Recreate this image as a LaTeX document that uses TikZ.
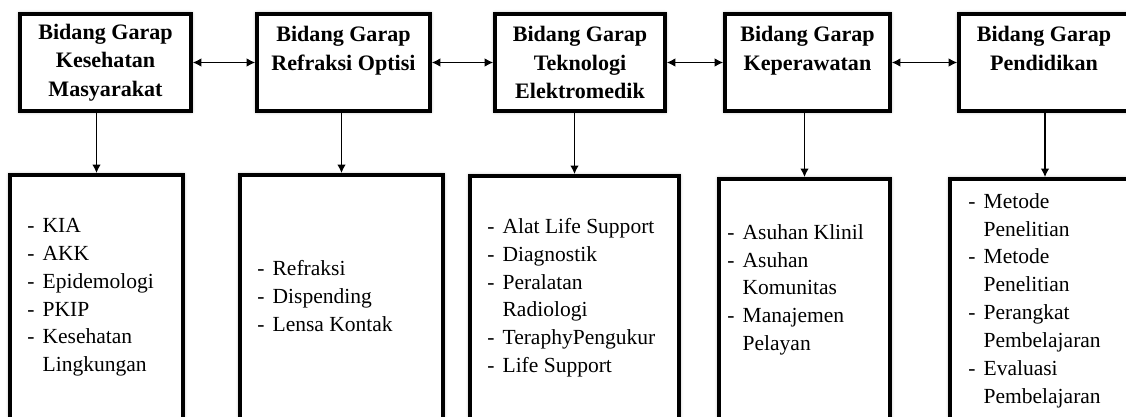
\documentclass[tikz,border=0pt]{standalone}
\usepackage{fontspec}
\setmainfont{Liberation Serif}
\usetikzlibrary{arrows.meta,calc,shadows.blur}

\tikzset{
  kotak/.style={draw, line width=2.6pt, fill=white, inner sep=0pt,
    blur shadow={shadow xshift=0pt, shadow yshift=0pt, shadow blur radius=3pt, shadow opacity=40}},
  judul/.style={kotak, minimum height=2.425cm, align=center,
    font=\fontsize{15.7}{20.3}\selectfont\bfseries},
  isi/.style={kotak, anchor=north, minimum height=6.6cm},
  daftar/.style={anchor=north west, align=left, inner sep=0pt,
    font=\fontsize{15.3}{19.8}\selectfont},
  panah/.style={-{Latex[length=6pt,width=6pt]}, line width=0.8pt},
  duapanah/.style={{Latex[length=6pt,width=6pt]}-{Latex[length=6pt,width=6pt]}, line width=0.8pt}
}
\newcommand{\butir}[1]{\makebox[0.38cm][l]{-}#1}
\newcommand{\lanjut}[1]{\hspace*{0.38cm}#1}

\begin{document}
\begin{tikzpicture}[x=0.025cm, y=-0.025cm]
    \clip (0,0) rectangle (1126,416);

    % bidang garap
    \node[judul, minimum width=4.275cm] (kesmas) at (105.5,62.5) {Bidang Garap\\Kesehatan\\Masyarakat};
    \node[judul, minimum width=4.325cm] (refraksi) at (343.5,62.5) {Bidang Garap\\Refraksi Optisi\\\mbox{}};
    \node[judul, minimum width=4.25cm] (tekno) at (580,62.5) {Bidang Garap\\Teknologi\\Elektromedik};
    \node[judul, minimum width=4.125cm] (perawat) at (807.5,62.5) {Bidang Garap\\Keperawatan\\\mbox{}};
    \node[judul, minimum width=4.25cm] (didik) at (1044,62.5) {Bidang Garap\\Pendidikan\\\mbox{}};

    \draw[duapanah] (kesmas.east) -- (refraksi.west);
    \draw[duapanah] (refraksi.east) -- (tekno.west);
    \draw[duapanah] (tekno.east) -- (perawat.west);
    \draw[duapanah] (perawat.east) -- (didik.west);

    % kotak isi
    \node[isi, minimum width=4.325cm] (kesmasIsi) at (96.5,173) {};
    \node[isi, minimum width=5.075cm] (refraksiIsi) at (341.5,173) {};
    \node[isi, minimum width=5.225cm] (teknoIsi) at (574.5,174) {};
    \node[isi, minimum width=4.275cm] (perawatIsi) at (804.5,177) {};
    \node[isi, minimum width=4.75cm] (didikIsi) at (1045,177) {};

    \draw[panah] (kesmas.south -| kesmasIsi.north) -- (kesmasIsi.north);
    \draw[panah] (refraksi.south -| refraksiIsi.north) -- (refraksiIsi.north);
    \draw[panah] (tekno.south -| teknoIsi.north) -- (teknoIsi.north);
    \draw[panah] (perawat.south -| perawatIsi.north) -- (perawatIsi.north);
    \draw[panah] (didik.south -| didikIsi.north) -- (didikIsi.north);

    % daftar
    \node[daftar] (kesmasDaftar) at ($(kesmasIsi.north west)+(19,45)$)
        {\butir{KIA}\\\butir{AKK}\\\butir{Epidemologi}\\\butir{PKIP}\\\butir{Kesehatan}\\\lanjut{Lingkungan}};
    \node[daftar] (refraksiDaftar) at ($(refraksiIsi.north west)+(19,87)$)
        {\butir{Refraksi}\\\butir{Dispending}\\\butir{Lensa Kontak}};
    \node[daftar] (teknoDaftar) at ($(teknoIsi.north west)+(19,44)$)
        {\butir{Alat Life Support}\\\butir{Diagnostik}\\\butir{Peralatan}\\\lanjut{Radiologi}\\\butir{TeraphyPengukur}\\\butir{Life Support}};
    \node[daftar] (perawatDaftar) at ($(perawatIsi.north west)+(10,47)$)
        {\butir{Asuhan Klinil}\\\butir{Asuhan}\\\lanjut{Komunitas}\\\butir{Manajemen}\\\lanjut{Pelayan}};
    \node[daftar] (didikDaftar) at ($(didikIsi.north west)+(20,16)$)
        {\butir{Metode}\\\lanjut{Penelitian}\\\butir{Metode}\\\lanjut{Penelitian}\\\butir{Perangkat}\\\lanjut{Pembelajaran}\\\butir{Evaluasi}\\\lanjut{Pembelajaran}};
\end{tikzpicture}
\end{document}
